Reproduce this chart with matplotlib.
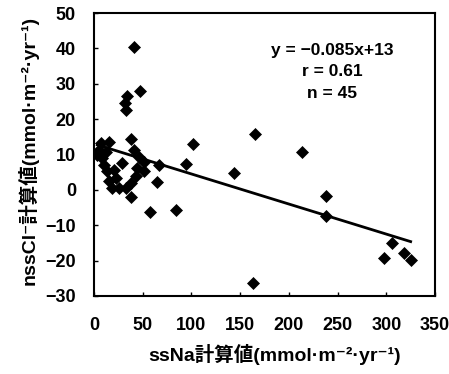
import matplotlib
matplotlib.use("Agg")
import matplotlib.pyplot as plt
import numpy as np

plt.rcParams['font.family'] = ['Liberation Sans', 'Noto Sans CJK JP', 'DejaVu Sans']
plt.rcParams['font.weight'] = 'bold'

# ssNa (x) and nssCl (y) calculated values, mmol m-2 yr-1
ss_na = [41, 47.5, 33.6, 32.1, 32.5, 165, 102, 37.7, 66.7, 94.5, 143.7, 65,
         57.5, 83.9, 37.7, 163.6, 213, 238, 238, 305.6, 297.7, 318, 325,
         6.8, 15.4, 5.1, 12, 8.6, 10.3, 13.7, 15.4, 22.3, 25.7, 18.8, 29.1,
         41.1, 46.2, 51.4, 44.5, 51.4, 42.8, 37.7, 32.5, 20.5, 3.4]
nss_cl = [40.3, 28.0, 26.4, 24.5, 22.6, 15.8, 13.0, 14.3, 7.1, 7.3, 4.7, 2.3,
          -6.3, -5.6, -1.9, -26.2, 10.6, -1.6, -7.3, -15.0, -19.3, -17.9, -19.8,
          13.2, 13.5, 11.3, 10.8, 8.9, 7.1, 5.2, 2.4, 3.3, 0.5, 0.5, 7.5,
          11.3, 9.4, 8.0, 6.1, 5.2, 3.8, 1.9, 0.5, 5.7, 9.9]

slope = -0.085
intercept = 13
r_value = 0.61
n_value = 45

x_ticks = [0, 50, 100, 150, 200, 250, 300, 350]
y_ticks = [-30, -20, -10, 0, 10, 20, 30, 40, 50]

xlabel = 'ssNa計算値(mmol·m⁻²·yr⁻¹)'
ylabel = 'nssCl⁻計算値(mmol·m⁻²·yr⁻¹)'

fig = plt.figure(figsize=(4.49, 3.74), dpi=100)
ax = fig.add_axes([94/449, 1-296/374, 341/449, 283/374])

xs = np.array([min(ss_na), max(ss_na)])
ax.plot(xs, slope*xs + intercept, color='black', lw=2, zorder=2)
ax.plot(ss_na, nss_cl, linestyle='none', marker='D', ms=6,
        color='black', mec='black', mew=0.5, zorder=3)

ax.set_xlim(0, 350)
ax.set_ylim(-30, 50)
ax.set_xticks(x_ticks)
ax.set_yticks(y_ticks)
for s in ax.spines.values():
    s.set_linewidth(1.5)
ax.tick_params(direction='in', length=3, width=1, labelsize=13)
ax.tick_params(axis='x', pad=15)
ax.tick_params(axis='y', pad=13)

ax.set_xlabel(xlabel, fontsize=14, fontweight='bold')
ax.set_ylabel(ylabel, fontsize=14, fontweight='bold')
ax.xaxis.set_label_coords((275-94)/341, -(344-296)/283)
ax.yaxis.set_label_coords(-(94-39)/341, (296-150)/283)

ax.text(0.698, 0.869, f'y = −{abs(slope):.3f}x+{intercept}', transform=ax.transAxes,
        ha='center', va='center', fontsize=12.5, fontweight='bold')
ax.text(0.698, 0.792, f'r = {r_value:.2f}', transform=ax.transAxes,
        ha='center', va='center', fontsize=12.5, fontweight='bold')
ax.text(0.698, 0.717, f'n = {n_value}', transform=ax.transAxes,
        ha='center', va='center', fontsize=12.5, fontweight='bold')

fig.savefig('out.png', dpi=100)
